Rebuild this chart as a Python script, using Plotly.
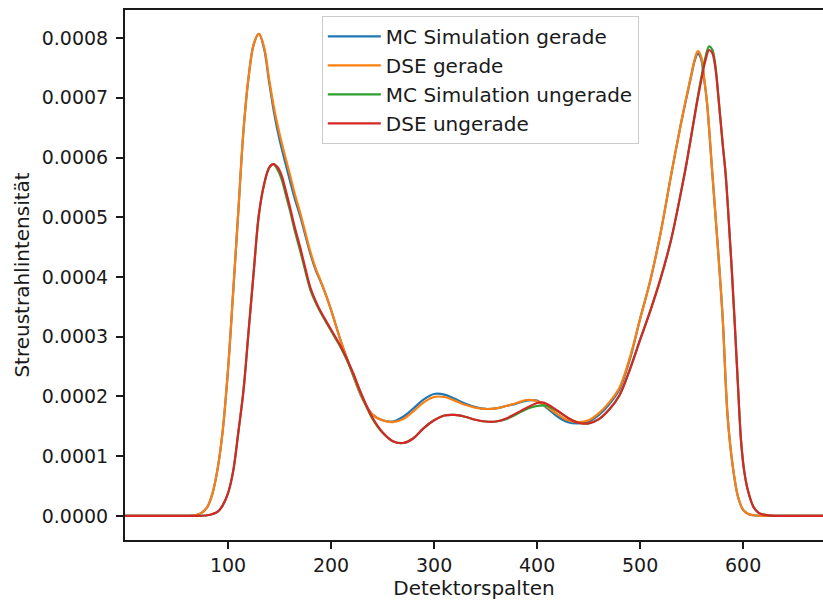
import plotly.graph_objects as go

# Values are in units of 1e-4 (Streustrahlintensität)
UNIT = 1e-4

x_gerade = [0, 20, 40, 60, 65, 70, 75, 80, 85, 90,
            95, 100, 105, 110, 115, 120, 125, 130, 135, 140,
            145, 150, 155, 160, 165, 170, 175, 180, 185, 190,
            195, 200, 210, 220, 230, 240, 250, 260, 270, 280,
            290, 300, 310, 320, 330, 340, 350, 360, 370, 380,
            390, 400, 410, 420, 430, 440, 450, 460, 470, 480,
            490, 500, 510, 520, 530, 540, 545, 550, 553, 556,
            559, 562, 565, 570, 575, 580, 585, 590, 595, 600,
            605, 610, 620, 640, 660, 680]

dse_gerade = [0, 0, 0, 0, 0.005, 0.02, 0.06, 0.15, 0.38, 0.8,
              1.45, 2.45, 3.75, 5.1, 6.45, 7.35, 7.9, 8.07, 7.85, 7.3,
              6.8, 6.4, 6.05, 5.72, 5.38, 5.08, 4.75, 4.42, 4.15, 3.93,
              3.7, 3.45, 2.9, 2.42, 1.98, 1.7, 1.6, 1.57, 1.62, 1.75,
              1.9, 1.99, 1.99, 1.93, 1.86, 1.81, 1.79, 1.8, 1.84, 1.89,
              1.94, 1.92, 1.82, 1.7, 1.6, 1.57, 1.6, 1.72, 1.9, 2.15,
              2.65, 3.3, 3.95, 4.75, 5.7, 6.6, 7.02, 7.42, 7.65, 7.78,
              7.7, 7.35, 6.91, 5.75, 4.6, 3.35, 1.65, 0.82, 0.32, 0.1,
              0.03, 0.01, 0, 0, 0, 0]

mc_gerade = [0, 0, 0, 0, 0.005, 0.02, 0.06, 0.15, 0.38, 0.8,
             1.45, 2.45, 3.75, 5.1, 6.45, 7.35, 7.9, 8.07, 7.82, 7.25,
             6.72, 6.3, 5.95, 5.62, 5.3, 5.02, 4.7, 4.38, 4.12, 3.92,
             3.7, 3.45, 2.9, 2.42, 1.98, 1.7, 1.6, 1.58, 1.66, 1.8,
             1.95, 2.04, 2.03, 1.96, 1.88, 1.82, 1.79, 1.8, 1.84, 1.88,
             1.93, 1.93, 1.8, 1.66, 1.57, 1.55, 1.58, 1.69, 1.87, 2.12,
             2.62, 3.3, 3.95, 4.75, 5.7, 6.6, 7.0, 7.4, 7.62, 7.74,
             7.66, 7.33, 6.9, 5.75, 4.6, 3.35, 1.65, 0.82, 0.32, 0.1,
             0.03, 0.01, 0, 0, 0, 0]

x_ungerade = [0, 20, 40, 60, 70, 80, 85, 90, 95, 100,
              105, 110, 115, 120, 125, 130, 135, 140, 144, 148,
              152, 156, 160, 165, 170, 175, 180, 185, 190, 200,
              210, 220, 230, 240, 250, 260, 270, 280, 290, 300,
              310, 320, 330, 340, 350, 360, 370, 380, 390, 400,
              405, 410, 420, 430, 440, 450, 460, 470, 480, 490,
              500, 510, 520, 530, 540, 545, 550, 555, 560, 563,
              567, 570, 573, 576, 580, 583, 586, 589, 592, 595,
              598, 601, 605, 610, 615, 620, 630, 640, 660, 680]

dse_ungerade = [0, 0, 0, 0, 0, 0.01, 0.03, 0.07, 0.18, 0.38,
                0.75, 1.4, 2.1, 3.1, 4.1, 5.05, 5.55, 5.83, 5.89, 5.84,
                5.7, 5.45, 5.18, 4.82, 4.5, 4.15, 3.82, 3.6, 3.42, 3.12,
                2.82, 2.45, 2.02, 1.65, 1.4, 1.25, 1.22, 1.3, 1.47, 1.6,
                1.68, 1.69, 1.66, 1.61, 1.58, 1.58, 1.63, 1.72, 1.81, 1.89,
                1.9, 1.87, 1.76, 1.64, 1.56, 1.55, 1.62, 1.78, 2.02, 2.45,
                2.95, 3.44, 3.98, 4.62, 5.45, 5.9, 6.4, 6.9, 7.35, 7.6,
                7.8, 7.75, 7.5, 7.0, 6.25, 5.72, 4.95, 4.11, 3.17, 2.17,
                1.25, 0.75, 0.4, 0.15, 0.05, 0.02, 0, 0, 0, 0]

mc_ungerade = [0, 0, 0, 0, 0, 0.01, 0.03, 0.07, 0.18, 0.38,
               0.75, 1.4, 2.1, 3.1, 4.1, 5.05, 5.55, 5.83, 5.89, 5.8,
               5.64, 5.38, 5.12, 4.76, 4.44, 4.1, 3.78, 3.57, 3.4, 3.1,
               2.8, 2.43, 2.0, 1.63, 1.39, 1.25, 1.22, 1.3, 1.47, 1.6,
               1.68, 1.69, 1.66, 1.61, 1.58, 1.58, 1.62, 1.7, 1.79, 1.84,
               1.85, 1.84, 1.75, 1.64, 1.56, 1.55, 1.62, 1.78, 2.02, 2.45,
               2.95, 3.44, 3.98, 4.62, 5.45, 5.9, 6.4, 6.92, 7.4, 7.65,
               7.86, 7.81, 7.55, 7.02, 6.25, 5.72, 4.95, 4.11, 3.17, 2.17,
               1.25, 0.75, 0.4, 0.15, 0.05, 0.02, 0, 0, 0, 0]

series = [
    ("MC Simulation gerade", x_gerade, mc_gerade, "#1f77b4"),
    ("DSE gerade", x_gerade, dse_gerade, "#ff7f0e"),
    ("MC Simulation ungerade", x_ungerade, mc_ungerade, "#2ca02c"),
    ("DSE ungerade", x_ungerade, dse_ungerade, "#d62728"),
]

x_ticks = [100, 200, 300, 400, 500, 600]
y_ticks = [0.0, 0.0001, 0.0002, 0.0003, 0.0004, 0.0005, 0.0006, 0.0007, 0.0008]
y_ticktext = ["0.0000", "0.0001", "0.0002", "0.0003", "0.0004", "0.0005", "0.0006", "0.0007", "0.0008"]

fig = go.Figure()
for name, xs, ys, color in series:
    fig.add_trace(go.Scatter(
        x=xs, y=[v * UNIT for v in ys], name=name, mode="lines",
        line=dict(color=color, width=2.2, shape="spline", smoothing=1.0),
    ))

font_color = "#1a1a1a"
fig.update_layout(
    width=823, height=604,
    margin=dict(l=125, r=0, t=10, b=64),
    plot_bgcolor="white", paper_bgcolor="white",
    font=dict(family="DejaVu Sans", size=19, color=font_color),
    showlegend=True,
    legend=dict(
        x=0.282, y=0.989, xanchor="left", yanchor="top",
        bgcolor="rgba(255,255,255,0.8)", bordercolor="#cccccc", borderwidth=1,
        font=dict(size=20, color=font_color), itemwidth=53,
    ),
    xaxis=dict(
        range=[0, 677.5], tickvals=x_ticks, ticks="outside", ticklen=7, tickwidth=1.5,
        tickcolor="#1a1a1a", showline=True, linecolor="#1a1a1a", linewidth=2, mirror=True,
        showgrid=False, zeroline=False, tickfont=dict(size=19),
        title=dict(text="Detektorspalten", standoff=6, font=dict(size=20)),
    ),
    yaxis=dict(
        range=[-0.0000404, 0.000847], tickvals=y_ticks, ticktext=y_ticktext, ticks="outside",
        ticklen=7, tickwidth=1.5, tickcolor="#1a1a1a", showline=True, linecolor="#1a1a1a",
        linewidth=2, mirror=False, showgrid=False, zeroline=False, tickfont=dict(size=19),
        ticklabelstandoff=4,
        title=dict(text="Streustrahlintensität", standoff=7, font=dict(size=20)),
    ),
)

fig.write_html("out.html")
